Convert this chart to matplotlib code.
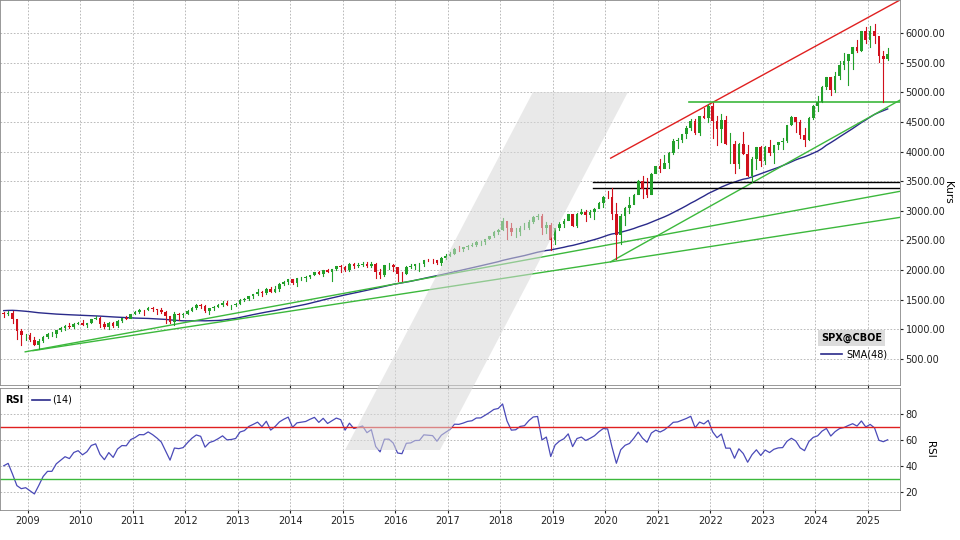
import matplotlib

matplotlib.use("Agg")
import matplotlib.pyplot as plt
import numpy as np
from matplotlib.patches import Polygon

# monthly closes Jul 2004 .. Jun 2008 (history for SMA / RSI)
pre_close = [1101, 1104, 1115, 1130, 1174, 1212,
             1181, 1204, 1181, 1157, 1192, 1191, 1234, 1220, 1229, 1207, 1249, 1248,
             1280, 1281, 1295, 1311, 1270, 1270, 1277, 1304, 1336, 1378, 1401, 1418,
             1438, 1407, 1421, 1482, 1531, 1503, 1455, 1474, 1527, 1549, 1481, 1468,
             1379, 1331, 1323, 1386, 1400, 1280]

# monthly candles Jul 2008 .. May 2025
close = [1267, 1283, 1166, 969, 896, 903,
         826, 735, 798, 873, 919, 919, 987, 1021, 1057, 1036, 1096, 1115,
         1074, 1104, 1169, 1187, 1089, 1031, 1102, 1049, 1141, 1183, 1181, 1258,
         1286, 1327, 1326, 1364, 1345, 1321, 1292, 1219, 1131, 1253, 1247, 1258,
         1312, 1366, 1408, 1398, 1310, 1362, 1379, 1407, 1441, 1412, 1416, 1426,
         1498, 1515, 1569, 1598, 1631, 1606, 1686, 1633, 1682, 1757, 1806, 1848,
         1783, 1859, 1872, 1884, 1924, 1960, 1931, 2003, 1972, 2018, 2068, 2059,
         1995, 2105, 2068, 2086, 2107, 2063, 2104, 1972, 1920, 2079, 2080, 2044,
         1940, 1932, 2060, 2065, 2097, 2099, 2174, 2171, 2168, 2126, 2199, 2239,
         2279, 2364, 2363, 2384, 2412, 2423, 2470, 2472, 2519, 2575, 2648, 2674,
         2824, 2714, 2641, 2648, 2705, 2718, 2816, 2902, 2914, 2712, 2760, 2507,
         2704, 2784, 2834, 2946, 2752, 2942, 2980, 2926, 2977, 3038, 3141, 3231,
         3226, 2954, 2585, 2912, 3044, 3100, 3271, 3500, 3363, 3270, 3622, 3756,
         3714, 3811, 3973, 4181, 4204, 4298, 4395, 4523, 4308, 4605, 4567, 4766,
         4516, 4374, 4530, 4132, 4132, 3785, 4130, 3955, 3586, 3872, 4080, 3840,
         4077, 3970, 4109, 4169, 4180, 4450, 4589, 4508, 4288, 4194, 4568, 4770,
         4846, 5096, 5254, 5036, 5278, 5460, 5522, 5648, 5762, 5705, 6032, 5882,
         6041, 5955, 5612, 5569, 5650]
high = [1293, 1313, 1303, 1167, 1007, 918,
        943, 877, 833, 888, 930, 956, 997, 1040, 1080, 1101, 1113, 1130,
        1150, 1113, 1180, 1220, 1201, 1131, 1120, 1130, 1150, 1196, 1227, 1263,
        1303, 1344, 1333, 1370, 1371, 1345, 1357, 1307, 1230, 1293, 1277, 1270,
        1333, 1378, 1420, 1423, 1416, 1364, 1392, 1426, 1475, 1470, 1419, 1448,
        1510, 1531, 1570, 1598, 1687, 1655, 1698, 1710, 1730, 1775, 1813, 1849,
        1850, 1867, 1883, 1897, 1924, 1968, 1991, 2005, 2019, 2019, 2075, 2093,
        2064, 2119, 2117, 2126, 2134, 2129, 2133, 2113, 2021, 2094, 2116, 2104,
        2039, 1962, 2075, 2111, 2103, 2120, 2177, 2194, 2188, 2170, 2214, 2278,
        2301, 2371, 2401, 2398, 2418, 2454, 2484, 2491, 2520, 2582, 2657, 2695,
        2873, 2835, 2801, 2717, 2742, 2791, 2848, 2916, 2941, 2940, 2815, 2800,
        2708, 2813, 2861, 2950, 2954, 2964, 3028, 3013, 3022, 3050, 3154, 3248,
        3337, 3394, 3136, 2955, 3068, 3233, 3280, 3514, 3588, 3550, 3646, 3760,
        3870, 3950, 3994, 4219, 4238, 4302, 4429, 4545, 4546, 4608, 4744, 4808,
        4819, 4595, 4637, 4594, 4307, 4178, 4141, 4325, 4119, 3905, 4080, 4101,
        4095, 4195, 4110, 4170, 4232, 4458, 4607, 4532, 4540, 4393, 4587, 4793,
        4931, 5112, 5265, 5264, 5342, 5524, 5670, 5652, 5768, 5879, 6045, 6100,
        6128, 6147, 5787, 5696, 5750]
low = [1200, 1248, 1107, 840, 741, 815,
       805, 734, 667, 783, 858, 888, 869, 979, 992, 1020, 1029, 1086,
       1071, 1045, 1106, 1170, 1040, 1029, 1011, 1040, 1040, 1131, 1173, 1187,
       1263, 1275, 1249, 1318, 1311, 1258, 1282, 1101, 1114, 1074, 1159, 1202,
       1258, 1312, 1341, 1357, 1292, 1266, 1326, 1372, 1397, 1403, 1343, 1398,
       1426, 1486, 1502, 1536, 1582, 1560, 1604, 1627, 1633, 1647, 1746, 1768,
       1770, 1737, 1834, 1814, 1863, 1915, 1930, 1905, 1964, 1820, 2001, 1973,
       1988, 1981, 2039, 2049, 2067, 2056, 2044, 1867, 1871, 1893, 2019, 1993,
       1812, 1810, 1937, 2033, 2025, 1992, 2074, 2147, 2119, 2097, 2084, 2187,
       2245, 2271, 2322, 2329, 2352, 2406, 2407, 2418, 2447, 2520, 2566, 2605,
       2683, 2533, 2585, 2553, 2594, 2691, 2698, 2803, 2864, 2604, 2631, 2347,
       2443, 2681, 2722, 2848, 2750, 2729, 2952, 2822, 2892, 2855, 3050, 3070,
       3214, 2855, 2192, 2447, 2767, 2966, 3115, 3284, 3209, 3234, 3280, 3633,
       3663, 3725, 3723, 3955, 4056, 4165, 4234, 4367, 4305, 4279, 4560, 4495,
       4222, 4114, 4157, 4124, 3811, 3637, 3721, 3954, 3585, 3492, 3699, 3765,
       3794, 3943, 3809, 4049, 4048, 4167, 4443, 4335, 4238, 4103, 4197, 4546,
       4682, 4845, 5056, 4954, 5012, 5234, 5390, 5120, 5403, 5675, 5696, 5833,
       5773, 5837, 5505, 4835, 5550]

year_ticks = list(range(2009, 2026))
price_ticks = [500, 1000, 1500, 2000, 2500, 3000, 3500, 4000, 4500, 5000, 5500, 6000]
rsi_ticks = [20, 40, 60, 80]

# trend lines: ((x0, y0), (x1, y1)) in decimal years / index points
red_line = ((2020.1, 3890), (2025.61, 6560))
green_lines = [((2020.1, 2140), (2025.61, 4870)),
               ((2008.95, 620), (2025.61, 3330)),
               ((2009.1, 640), (2025.61, 2890))]
green_hline = (2021.6, 4830)
black_hlines = [(2019.77, 3490), (2019.77, 3390)]

UP, DOWN = "#22a02a", "#d0101c"

all_close = np.array(pre_close + close, dtype=float)
n_pre = len(pre_close)
t = 2008.5 + np.arange(len(close)) / 12 + 1 / 24
opens = all_close[n_pre - 1:-1]

sma = np.convolve(all_close, np.ones(48) / 48, mode="valid")[-len(close):]

diff = np.diff(all_close)
gain = np.clip(diff, 0, None)
loss = np.clip(-diff, 0, None)
ag, al = gain[:14].mean(), loss[:14].mean()
rsi_all = [np.nan] * 14
for g, l in zip(gain[14:], loss[14:]):
    ag = (ag * 13 + g) / 14
    al = (al * 13 + l) / 14
    rsi_all.append(100 - 100 / (1 + ag / al))
rsi = np.array(rsi_all)[-len(close):]

fig = plt.figure(figsize=(9.6, 5.4), dpi=100)
x0, x1 = 2008.47, 2025.61
ax = fig.add_axes([0.0, 1 - 385 / 540, 900 / 960, 385 / 540])
ax2 = fig.add_axes([0.0, 1 - 510 / 540, 900 / 960, 122 / 540])

# watermark
fig.patches.append(Polygon([(345 / 960, 1 - 450 / 540), (440 / 960, 1 - 450 / 540),
                            (628 / 960, 1 - 92 / 540), (533 / 960, 1 - 92 / 540)],
                           closed=True, transform=fig.transFigure, facecolor="#d8d8d8",
                           edgecolor="none", alpha=0.55, zorder=0))

for a in (ax, ax2):
    a.set_facecolor("none")
    a.set_xlim(x0, x1)
    a.set_xticks(year_ticks)
    a.grid(True, color="#b0b0b0", linestyle=(0, (2, 2)), linewidth=0.6)
    a.yaxis.tick_right()
    a.tick_params(labelsize=7, length=2, pad=2, colors="#222222")
    for s in a.spines.values():
        s.set_color("#888888")
        s.set_linewidth(0.6)

w = 0.6 / 12
for ti, o, c, h, l in zip(t, opens, close, high, low):
    col = UP if c >= o else DOWN
    ax.plot([ti, ti], [l, h], color=col, linewidth=0.8, zorder=3)
    ax.bar(ti, abs(c - o) or 2, width=w, bottom=min(o, c), color=col, zorder=4, linewidth=0)

ax.plot(t, sma, color="#2a2a8a", linewidth=1.0, zorder=2)
ax.plot(*zip(*red_line), color="#e02020", linewidth=1.0)
for ln in green_lines:
    ax.plot(*zip(*ln), color="#3cb83c", linewidth=1.0)
ax.plot([green_hline[0], x1], [green_hline[1]] * 2, color="#3cb83c", linewidth=1.2)
for xs, ys in black_hlines:
    ax.plot([xs, x1], [ys, ys], color="black", linewidth=1.0)

ax.set_ylim(60, 6560)
ax.set_yticks(price_ticks)
ax.set_yticklabels([f"{v:.2f}" for v in price_ticks])
ax.set_xticklabels([])
ax.set_ylabel("Kurs", fontsize=7.5, rotation=270, va="center")
ax.yaxis.set_label_coords(1.053, 0.5)

ax.text(0.912, 0.115, "SPX@CBOE", transform=ax.transAxes, fontsize=7, fontweight="bold",
        bbox=dict(facecolor="#dcdcdc", edgecolor="none", pad=2))
ax.plot([0.912, 0.935], [0.08, 0.08], transform=ax.transAxes, color="#2a2a8a", linewidth=1.2)
ax.text(0.94, 0.08, "SMA(48)", transform=ax.transAxes, fontsize=7, va="center")

ax2.plot(t, rsi, color="#4a4ab8", linewidth=0.9)
ax2.axhline(70, color="#e02020", linewidth=1.0)
ax2.axhline(30, color="#3cb83c", linewidth=1.0)
ax2.set_ylim(6, 100)
ax2.set_yticks(rsi_ticks)
ax2.set_xticklabels([str(y) for y in year_ticks])
ax2.set_ylabel("RSI", fontsize=7.5, rotation=270, va="center")
ax2.yaxis.set_label_coords(1.033, 0.5)
ax2.text(0.006, 0.88, "RSI", transform=ax2.transAxes, fontsize=7, fontweight="bold")
ax2.plot([0.035, 0.055], [0.9, 0.9], transform=ax2.transAxes, color="#2a2a8a", linewidth=1.2)
ax2.text(0.058, 0.88, "(14)", transform=ax2.transAxes, fontsize=7)

fig.savefig("out.png", dpi=100)
